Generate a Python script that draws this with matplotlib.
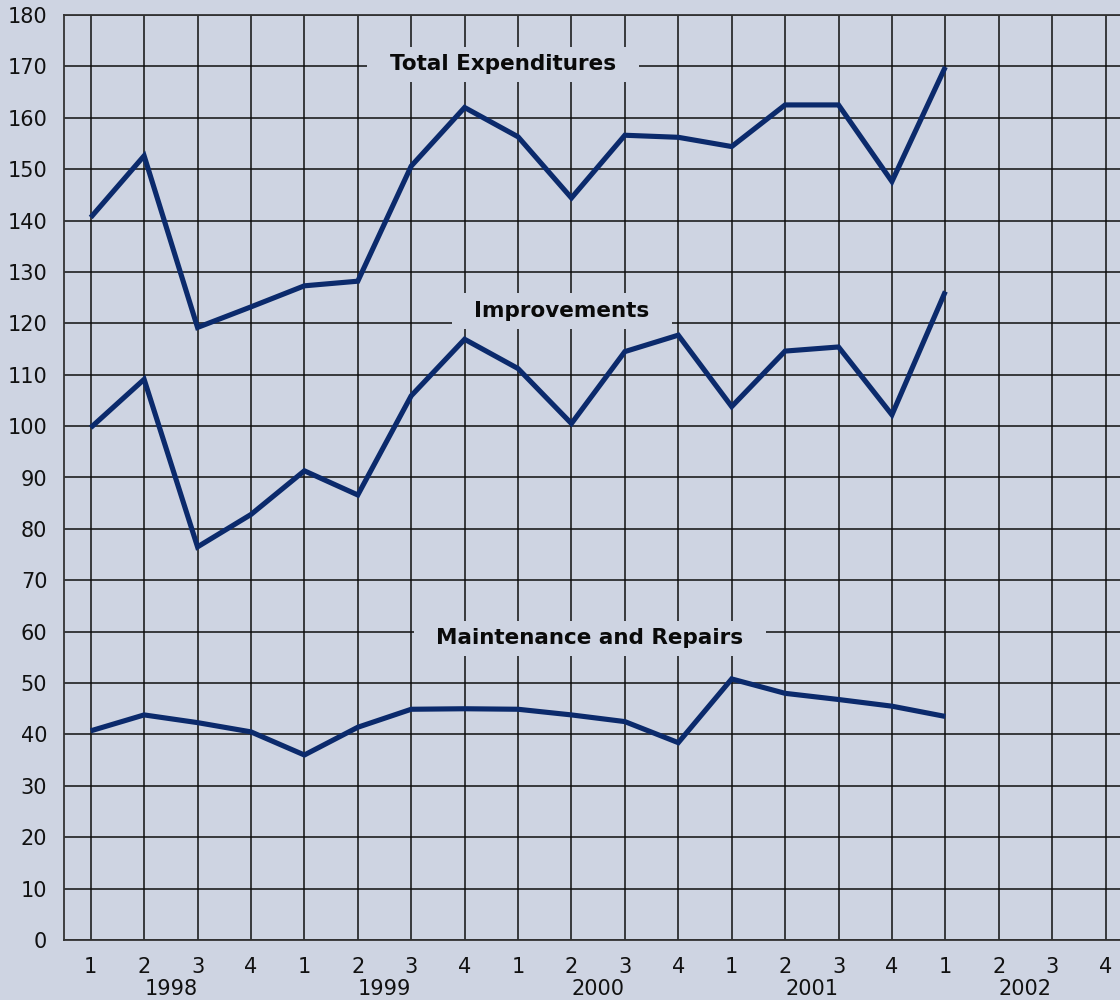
import numpy as np
import matplotlib
matplotlib.use("Agg")
import matplotlib.pyplot as plt
from matplotlib import transforms

# quarterly series, 1998 Q1 .. 2002 Q1
total_expenditures = [140.6, 152.6, 119.2, 123.2, 127.3, 128.2, 150.6, 162.0,
                      156.3, 144.4, 156.6, 156.2, 154.4, 162.5, 162.5, 147.6, 169.9]
improvements = [99.7, 109.1, 76.5, 82.8, 91.3, 86.6, 105.9, 116.9,
                111.2, 100.5, 114.5, 117.7, 103.8, 114.6, 115.4, 102.2, 126.2]
maintenance = [40.7, 43.8, 42.3, 40.5, 36.0, 41.4, 44.9, 45.0,
               44.9, 43.8, 42.5, 38.4, 50.8, 48.0, 46.8, 45.5, 43.5]

quarter_labels = ["1", "2", "3", "4"] * 5
years = ["1998", "1999", "2000", "2001", "2002"]
series_names = ["Total Expenditures", "Improvements", "Maintenance and Repairs"]

BG = "#ced4e2"
LINE = "#0b2a6c"

fig = plt.figure(figsize=(11.2, 10), dpi=100, facecolor=BG)
ax = fig.add_axes([64 / 1120, 0.06, 1 - 64 / 1120, 0.925])
ax.set_facecolor(BG)

x = np.arange(len(total_expenditures))
for vals in (total_expenditures, improvements, maintenance):
    ax.plot(x, vals, color=LINE, lw=3.7, solid_joinstyle="miter",
            solid_capstyle="butt", zorder=3)

ax.set_xlim(-0.5, (1120 - 91) / 53.4)
ax.set_ylim(0, 180)
ax.set_yticks(np.arange(0, 181, 10))
ax.set_xticks(np.arange(len(quarter_labels)))
ax.set_xticklabels(quarter_labels)
ax.tick_params(length=0, labelsize=15, colors="#111111")
ax.tick_params(axis="y", pad=12)
ax.tick_params(axis="x", pad=12)
ax.grid(True, color="#0f0f0f", lw=1.1, zorder=1)
ax.set_axisbelow(True)

ax.spines["right"].set_visible(False)
for side in ("left", "bottom", "top"):
    ax.spines[side].set_color("#333333")
    ax.spines[side].set_linewidth(1.3)

trans = transforms.blended_transform_factory(ax.transData, ax.transAxes)
for i, yr in enumerate(years):
    ax.text(4 * i + 1.5, -0.053, yr, transform=trans, ha="center", va="center",
            fontsize=15, color="#111111")

label_pos = [(7.72, 170.4), (8.82, 122.4), (9.34, 58.7)]
for name, (lx, ly) in zip(series_names, label_pos):
    ax.text(lx, ly, "  " + name + "  ", ha="center", va="center", fontsize=15.5,
            fontweight="bold", color="#0a0a0a", zorder=5,
            bbox=dict(boxstyle="square,pad=0.35", facecolor=BG, edgecolor="none"))

fig.savefig("out.png", dpi=100, facecolor=BG)
